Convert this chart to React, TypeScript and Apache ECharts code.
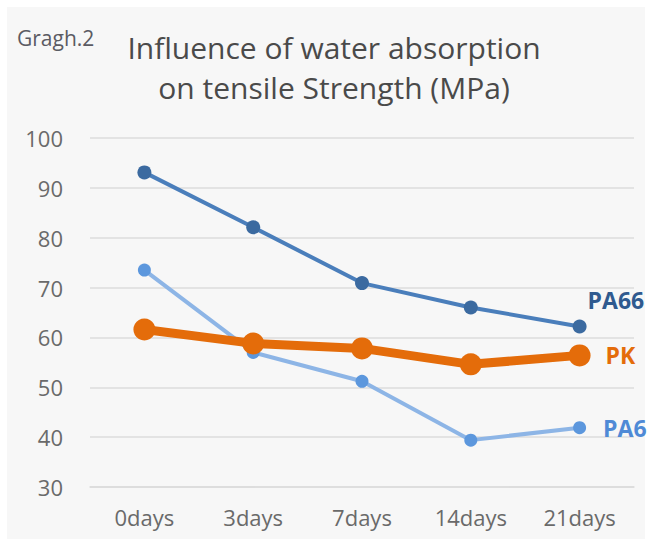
import React, { useEffect, useRef } from "react";
import * as echarts from "echarts";

const categories = ["0days", "3days", "7days", "14days", "21days"];
const pa66 = [93.1, 82.1, 70.9, 66.0, 62.2];
const pk = [61.6, 58.8, 57.8, 54.6, 56.4];
const pa6 = [73.5, 57.0, 51.2, 39.4, 41.9];
const yTicks = { min: 30, max: 100, interval: 10 };

const FONT = "'Open Sans', 'Noto Sans', sans-serif";

export default function App() {
  const ref = useRef<HTMLDivElement>(null);
  useEffect(() => {
    if (!ref.current) return;
    const chart = echarts.init(ref.current, undefined, { renderer: "svg" });
    const endLabel = (text: string, color: string, offset: number[]) => ({
      show: true,
      position: "right",
      offset,
      formatter: text,
      color,
      fontFamily: FONT,
      fontSize: 23,
      fontWeight: "bold",
    });
    const mk = (vals: number[], lab: any) =>
      vals.map((v, i) => (i === vals.length - 1 ? { value: v, label: lab } : v));
    const titleStyle = {
      fontFamily: FONT,
      fontSize: 30,
      fill: "#4a4a4a",
      align: "center",
      verticalAlign: "middle",
      letterSpacing: -0.9,
    };
    chart.setOption({
      animation: false,
      backgroundColor: "#ffffff",
      graphic: [
        {
          type: "rect",
          z: -10,
          shape: { x: 7, y: 7, width: 638, height: 532 },
          style: { fill: "#f7f7f7" },
          silent: true,
        },
        {
          type: "text",
          left: 17,
          top: 27,
          style: { text: "Gragh.2", fontFamily: FONT, fontSize: 21, fill: "#5b5b63", letterSpacing: -0.6 },
        },
        {
          type: "text",
          x: 334,
          y: 47,
          style: { ...titleStyle, text: "Influence of water absorption" },
        },
        {
          type: "text",
          x: 334,
          y: 87,
          style: { ...titleStyle, text: "on tensile Strength (MPa)" },
        },
      ],
      grid: { left: 90, right: 18, top: 138, bottom: 58, containLabel: false },
      xAxis: {
        type: "category",
        data: categories,
        boundaryGap: true,
        axisLine: { show: true, lineStyle: { color: "#dcdcdc", width: 1.5 } },
        axisTick: { show: false },
        axisLabel: { color: "#6a6a6a", fontFamily: FONT, fontSize: 22, margin: 19 },
      },
      yAxis: {
        type: "value",
        min: yTicks.min,
        max: yTicks.max,
        interval: yTicks.interval,
        axisLine: { show: false },
        axisTick: { show: false },
        splitLine: { lineStyle: { color: "#dcdcdc", width: 1.5 } },
        axisLabel: { color: "#6a6a6a", fontFamily: FONT, fontSize: 22, margin: 27 },
      },
      series: [
        {
          name: "PA6",
          type: "line",
          data: mk(pa6, endLabel("PA6", "#4f8ad6", [12, 0])),
          symbol: "circle",
          symbolSize: 13,
          lineStyle: { color: "#8db5e6", width: 4 },
          itemStyle: { color: "#5c97dd" },
          z: 3,
        },
        {
          name: "PK",
          type: "line",
          data: mk(pk, endLabel("PK", "#e46c0a", [10, 0])),
          symbol: "circle",
          symbolSize: 22,
          lineStyle: { color: "#e46c0a", width: 9 },
          itemStyle: { color: "#e46c0a" },
          z: 4,
        },
        {
          name: "PA66",
          type: "line",
          data: mk(pa66, endLabel("PA66", "#2f5a8f", [-4, -26])),
          symbol: "circle",
          symbolSize: 14,
          lineStyle: { color: "#4a7ebb", width: 4 },
          itemStyle: { color: "#3b6aa0" },
          z: 5,
        },
      ],
    });
    return () => chart.dispose();
  }, []);
  return (
    <div
      ref={ref}
      style={{ position: "absolute", left: 0, top: 0, width: 652, height: 545 }}
    />
  );
}
